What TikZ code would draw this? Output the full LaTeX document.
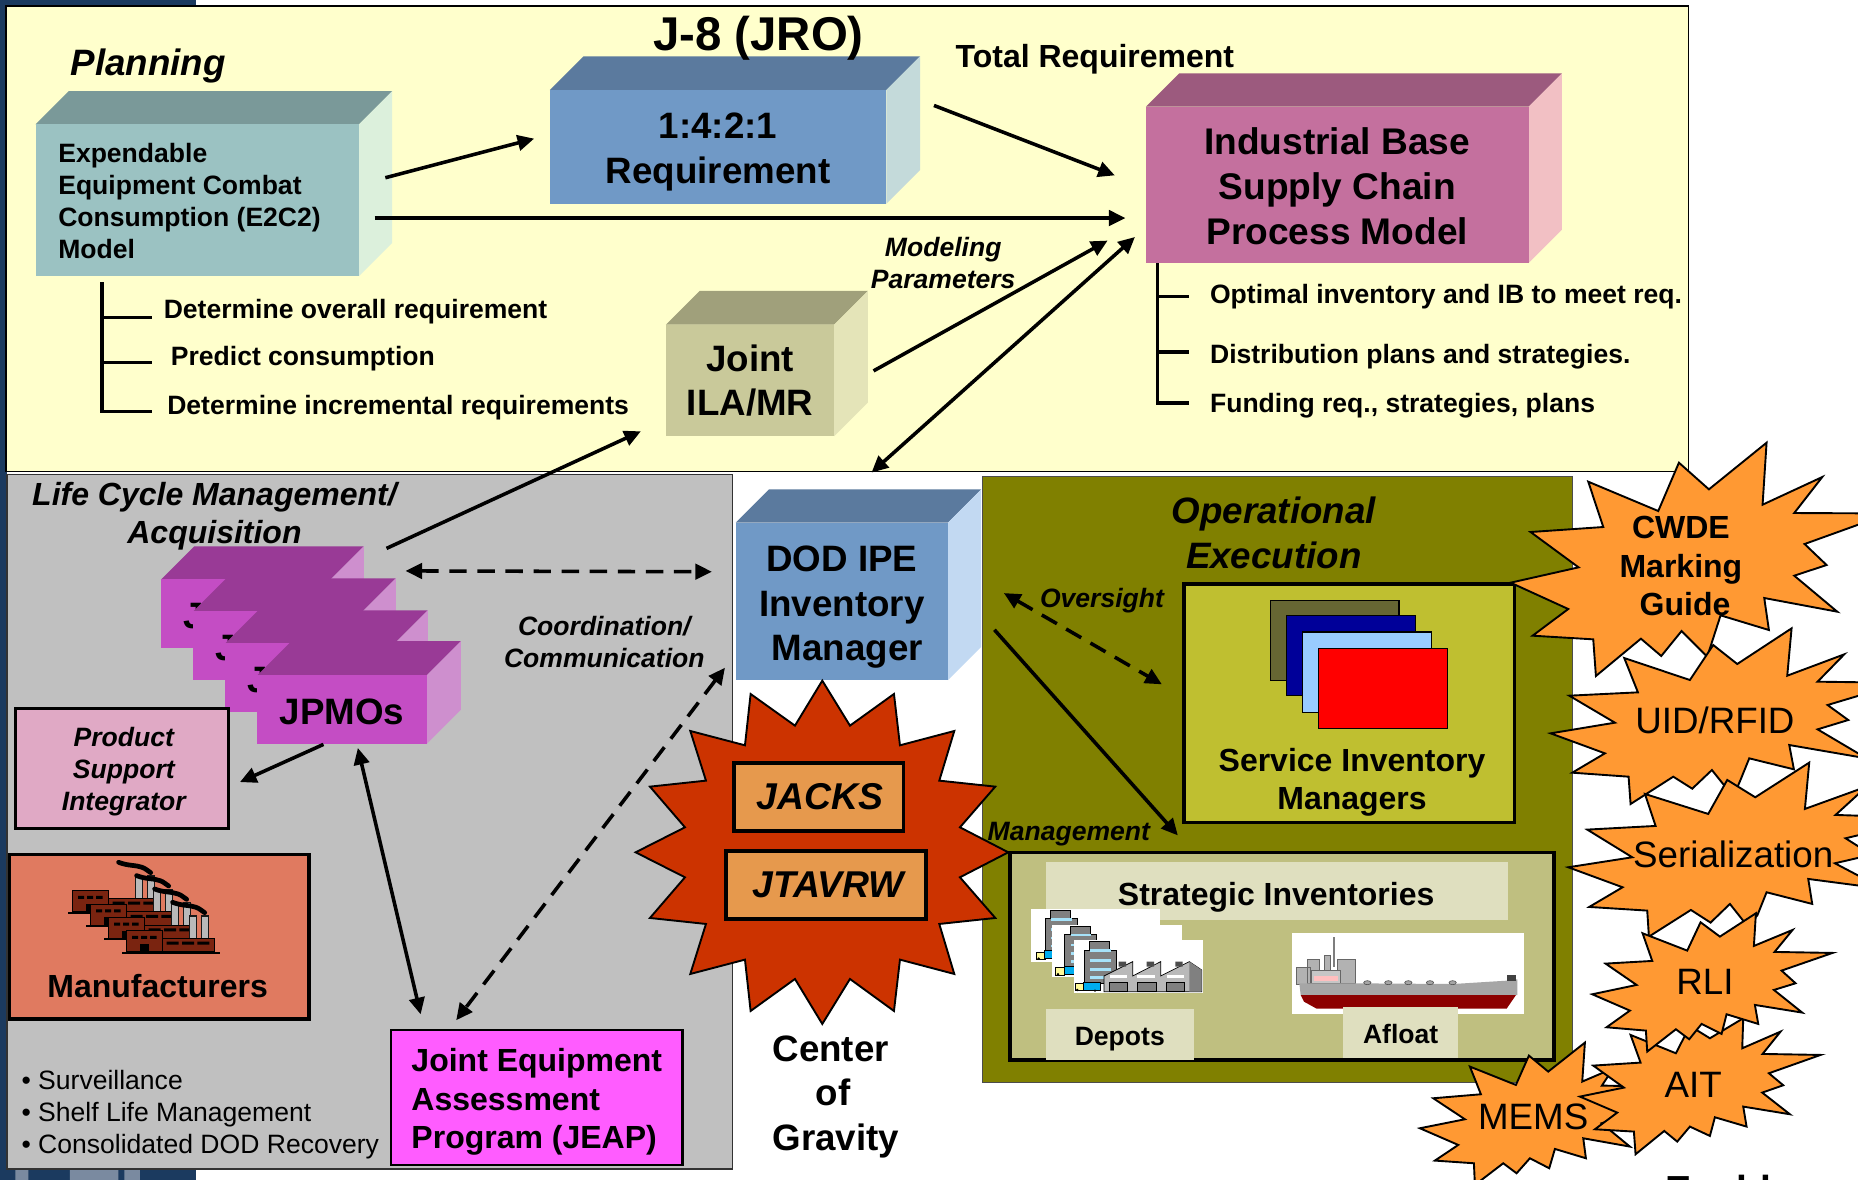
\documentclass[tikz,border=0pt]{standalone}
\usepackage{fontspec}
\setmainfont{Liberation Sans}
\usetikzlibrary{arrows.meta,calc}
\definecolor{navy}{HTML}{1B3A5F}
\definecolor{panelY}{HTML}{FFFFCC}
\definecolor{panelG}{HTML}{C0C0C0}
\definecolor{olive}{HTML}{808000}
\definecolor{e2f}{HTML}{9BC2C2}\definecolor{e2t}{HTML}{7A9999}\definecolor{e2s}{HTML}{DCF0DC}
\definecolor{rqf}{HTML}{7099C6}\definecolor{rqt}{HTML}{5B7A9E}\definecolor{rqs}{HTML}{C4DADA}
\definecolor{inf}{HTML}{C4709E}\definecolor{int}{HTML}{9C5A7E}\definecolor{ins}{HTML}{F2C0C4}
\definecolor{ilf}{HTML}{C9C99A}\definecolor{ilt}{HTML}{A0A07B}\definecolor{ils}{HTML}{E4E4B8}
\definecolor{dof}{HTML}{7099C6}\definecolor{dot}{HTML}{5B7A9E}\definecolor{dos}{HTML}{C2D9F2}
\definecolor{jpf}{HTML}{C44DC4}\definecolor{jpt}{HTML}{993A96}\definecolor{jps}{HTML}{CE8FCE}
\definecolor{psiF}{HTML}{E0A9C5}
\definecolor{manF}{HTML}{E07A60}
\definecolor{jeapF}{HTML}{FF5CFF}
\definecolor{starR}{HTML}{CC3300}
\definecolor{starO}{HTML}{FF9933}
\definecolor{jackF}{HTML}{E6994D}
\definecolor{svcF}{HTML}{BFBF30}
\definecolor{strF}{HTML}{BFBF80}
\definecolor{paleF}{HTML}{DFDFBF}
\definecolor{brick}{HTML}{7A2410}
\definecolor{cardA}{HTML}{666633}
\definecolor{cardB}{HTML}{000099}
\definecolor{cardC}{HTML}{99CCFF}
\definecolor{cardD}{HTML}{FF0000}
\definecolor{stripG}{HTML}{7A8AA0}
\newcommand\fs[2]{\fontsize{#1}{#2}\selectfont}
\tikzset{
  tx/.style={inner sep=0pt,align=center},
  txl/.style={inner sep=0pt,align=left,anchor=west},
  arr/.style={line width=3pt,-{Triangle[length=14pt,width=13pt]}},
  darr/.style={line width=3pt,{Triangle[length=14pt,width=13pt]}-{Triangle[length=14pt,width=13pt]}},
  dasharr/.style={darr,dash pattern=on 14.7pt off 9pt},
  tree/.style={line width=2.8pt},
  burst/.style={draw=black,line width=1.6pt,line join=miter,miter limit=20},
  boxed/.style={draw=black,line width=3pt,inner sep=0pt,align=center},
  z3/.style={x=0.2813pt,y=-0.2813pt},
  bb/.style={font=\bfseries\fs{22.4}{27}},
  bi/.style={font=\bfseries\itshape\fs{22.4}{27}},
}
\def\cs{0}
% name,x1,y1,x2,y2,depth,colour prefix,font,text
\newcommand\cube[9]{%
  \fill[#7t] (#2,#3) -- (#2+#6,#3-#6) -- (#4+#6,#3-#6) -- (#4,#3) -- cycle;
  \fill[#7s] (#4,#3) -- (#4+#6,#3-#6) -- (#4+#6,#5-#6) -- (#4,#5) -- cycle;
  \node[fill=#7f,inner sep=0pt,minimum width=#4pt-#2pt,minimum height=#5pt-#3pt] (#1) at ({(#2+#4)/2},{(#3+#5)/2}) {};
  \node[tx,font=#8] (#1T) at ({(#2+#4)/2},{(#3+#5)/2+\cs}) {#9};
}
\newcommand\factory[2]{%
  \begin{scope}[shift={(#1,#2)}]
    \fill[black!90] (416,196) rectangle (442,265);
    \fill[black!90] (452,196) rectangle (478,265);
    \fill[gray!55] (420,200) rectangle (438,265);
    \fill[gray!55] (456,200) rectangle (474,265);
    \draw[line width=4pt,line cap=round] (368,157) .. controls (395,168) and (420,165) .. (438,172) .. controls (450,176) and (455,183) .. (464,188);
    \fill[brick,draw=black,line width=.8pt] (337,265) rectangle (494,305);
    \fill[black] (350,275) rectangle (386,284) (396,275) rectangle (432,284) (442,275) rectangle (478,284);
    \fill[brick,draw=black,line width=.8pt] (230,242) rectangle (336,305);
    \fill[black] (246,258) rectangle (264,267) (273,258) rectangle (291,267) (300,258) rectangle (320,267);
    \fill[black] (270,282) rectangle (298,305);
    \fill[black] (216,305) rectangle (510,311);
  \end{scope}%
}
\newcommand\tower[2]{%
  \begin{scope}[shift={(#1,#2)}]
    \fill[gray,draw=black,line width=.5pt] (208,125) rectangle (268,150);
    \fill[gray,draw=black,line width=.5pt] (192,150) rectangle (288,250);
    \foreach \yy in {152,182,208,232}{\fill[cyan!35] (210,\yy-4) rectangle (272,\yy+4);}
    \fill[yellow!40!white,draw=black,line width=.5pt] (165,250) rectangle (192,272);
    \fill[cyan,draw=black,line width=.5pt] (190,246) rectangle (240,270);
    \fill[black] (172,270) circle (4) (225,272) circle (4);
  \end{scope}%
}
\begin{document}
\begin{tikzpicture}[x=1pt,y=-1pt]
\useasboundingbox (0,0) rectangle (1568,995.8);
\clip (0,0) rectangle (1568,995.8);
\fill[white] (0,0) rectangle (1568,995.8);
% backdrop strips
\fill[navy] (0,0) rectangle (165,6);
\fill[navy] (0,0) rectangle (6,995.8);
\fill[navy] (0,986) rectangle (165,995.8);
\fill[stripG] (13,987) rectangle (24,995.8) (59,987) rectangle (100,995.8) (105,987) rectangle (118,995.8);
% panels
\node[draw=black,line width=1.4pt,fill=panelY,minimum width=1420pt,minimum height=393pt,inner sep=0pt] (planPanel) at (715,201.5) {};
\node[draw=black!80,line width=1.4pt,fill=panelG,minimum width=612.5pt,minimum height=586pt,inner sep=0pt] (lcmPanel) at (312,693.5) {};
\node[draw=black!70,line width=1pt,fill=olive,minimum width=498pt,minimum height=511.5pt,inner sep=0pt] (opsPanel) at (1078,658) {};
% planning cubes
\cube{e2c2}{30}{105}{303}{233}{28}{e2}{\bfseries}{}
\def\cs{4}
\cube{req}{464}{76}{748}{172}{28.5}{rq}{\bfseries\fs{31}{38}}{1:4:2:1\\Requirement}
\def\cs{1.5}
\cube{ind}{967}{90}{1290}{222}{28}{in}{\bfseries\fs{31.3}{38}}{Industrial Base\\Supply Chain\\Process Model}
\def\cs{0}
\cube{ila}{562}{274}{704}{368}{28.5}{il}{\bfseries\fs{31}{37}}{Joint\\ILA/MR}
\node[txl,bb] (e2c2txt) at (49,170) {Expendable\\Equipment Combat\\Consumption (E2C2)\\Model};
% titles
\node[tx,font=\bfseries\fs{40}{40}] (j8) at (640,32) {J-8 (JRO)};
\node[tx,font=\bfseries\itshape\fs{31}{31}] (planT) at (125,56) {Planning};
\node[tx,font=\bfseries\fs{27}{27}] (totalT) at (924,50) {Total Requirement};
\node[tx,bi] (modT) at (796,222) {Modeling\\Parameters};
% left tree
\node[txl,bb] (t1) at (138,263) {Determine overall requirement};
\node[txl,bb] (t2) at (144,303) {Predict consumption};
\node[txl,bb] (t3) at (141,344) {Determine incremental requirements};
\coordinate (lt0) at (86,238); \coordinate (lt3) at (86,347); \coordinate (lt3e) at (128,347);
\coordinate (lt1) at (86,268); \coordinate (lt1e) at (128,268);
\coordinate (lt2) at (86,306); \coordinate (lt2e) at (128,306);
\draw[tree] (lt0) -- (lt3) -- (lt3e) (lt1) -- (lt1e) (lt2) -- (lt2e);
% right tree
\node[txl,bb] (r1) at (1021,250) {Optimal inventory and IB to meet req.};
\node[txl,bb] (r2) at (1021,301) {Distribution plans and strategies.};
\node[txl,bb] (r3) at (1021,342) {Funding req., strategies, plans};
\coordinate (rt0) at (977,222); \coordinate (rt3) at (977,340); \coordinate (rt3e) at (1003,340);
\coordinate (rt1) at (977,250); \coordinate (rt1e) at (1003,250);
\coordinate (rt2) at (977,297); \coordinate (rt2e) at (1003,297);
\draw[tree] (rt0) -- (rt3) -- (rt3e) (rt1) -- (rt1e) (rt2) -- (rt2e);
% life cycle
\node[tx,font=\bfseries\itshape\fs{27}{32}] (lcmT) at (181,436) {Life Cycle Management/\\Acquisition};
\def\cs{2}
\cube{jpa}{136}{489}{279}{547}{28}{jp}{\bfseries\fs{31}{31}}{JPMOs}
\cube{jpb}{163}{516}{306}{574}{28}{jp}{\bfseries\fs{31}{31}}{JPMOs}
\cube{jpc}{190}{543}{333}{601}{28}{jp}{\bfseries\fs{31}{31}}{JPMOs}
\cube{jpd}{217}{570}{360}{628}{29}{jp}{\bfseries\fs{31}{31}}{JPMOs}
\node[boxed,fill=psiF,minimum width=180pt,minimum height=101pt] (psi) at (103,648.5) {};
\node[tx,font=\bfseries\itshape\fs{22.4}{27}] (psiT) at (104.5,651) {Product\\Support\\Integrator};
\node[draw=black,line width=3pt,fill=manF,minimum width=253pt,minimum height=139pt,inner sep=0pt] (man) at (134.5,790.5) {};
\node[tx,font=\bfseries\fs{27}{27}] (manT) at (133,832) {Manufacturers};
\begin{scope}[shift={(42.2,717.3)},z3]
  \factory{-162}{-120}\factory{-108}{-80}\factory{-54}{-40}\factory{0}{0}
\end{scope}
\node[draw=black,line width=2pt,fill=jeapF,inner sep=0pt,minimum width=246pt,minimum height=114pt] (jeap) at (453,926) {};
\node[tx,align=left,font=\bfseries\fs{27}{32.5}] (jeapT) at (453,930) {Joint Equipment\\Assessment\\Program (JEAP)};
\node[txl,font=\fs{22.4}{27}] (bul) at (18,941) {• Surveillance\\• Shelf Life Management\\• Consolidated DOD Recovery};
\node[tx,bi] (coordT) at (510,541.5) {Coordination/\\Communication};
% DOD
\def\cs{5}
\cube{dod}{621}{441}{800}{574}{28}{do}{\bfseries\fs{31}{37.5}}{DOD IPE\\Inventory\\\hspace*{9pt}Manager}
\def\cs{0}
% operational
\node[tx,font=\bfseries\itshape\fs{31}{38}] (opT) at (1075,450) {Operational\\Execution};
\node[boxed,fill=svcF,minimum width=279pt,minimum height=201pt] (svc) at (1138.5,593.5) {};
\begin{scope}[shift={(810,396.6)},x=.4833pt,y=-.3821pt]
  \foreach \ox/\oy/\cc in {542/288/cardA,570/322/cardB,598/358/cardC,626/394/cardD}{
    \filldraw[fill=\cc,draw=black,line width=1pt] (\ox,\oy) rectangle (\ox+225,\oy+177);
  }
\end{scope}
\node[tx,font=\bfseries\fs{27}{32}] (svcT) at (1141,660) {Service Inventory\\Managers};
\node[boxed,fill=strF,minimum width=459pt,minimum height=175pt] (strat) at (1082,807) {};
\node[fill=paleF,inner sep=0pt,minimum width=390pt,minimum height=48.5pt] (stratBar) at (1078,752) {};
\node[tx,font=\bfseries\fs{27}{27}] (stratT) at (1077,757) {Strategic Inventories};
% depots picture
\begin{scope}[shift={(860.8,759.5)},z3]
  \fill[white] (33,27) rectangle (420,185);
  \tower{-116}{-94}
  \fill[white] (97,75) rectangle (486,232);
  \tower{-58}{-47}
  \fill[white] (162,120) rectangle (548,278);
  \tower{0}{0}
  \fill[gray!55,draw=black,line width=.6pt] (252,228) -- (338,185) -- (338,228) -- (422,185) -- (422,228) -- (508,185) -- (545,210) -- (545,275) -- (252,275) -- cycle;
  \fill[black!70] (296,185) rectangle (318,200) (380,185) rectangle (402,200) (466,185) rectangle (488,200);
  \fill[gray] (508,185) -- (545,210) -- (545,275) -- (508,275) -- cycle;
  \fill[gray,draw=black,line width=.4pt] (268,247) rectangle (322,275) (352,247) rectangle (410,275) (438,247) rectangle (494,275);
  \foreach \wx in {270,352,440}{\fill[white] (\wx,226) rectangle (\wx+52,233);}
\end{scope}
% ship picture
\begin{scope}[shift={(1080.2,776.4)},z3]
  \fill[white] (37,40) rectangle (731,281);
  \fill[gray!55!black!70] (160,52) rectangle (166,140);
  \fill[gray!60,draw=black!60,line width=.4pt] (83,118) rectangle (118,190) (133,105) rectangle (152,190) (172,118) rectangle (226,190) (50,142) rectangle (90,192);
  \fill[gray!45,draw=black!60,line width=.4pt] (95,150) rectangle (180,190);
  \fill[red!25] (102,168) rectangle (175,182);
  \fill[gray!70] (58,190) -- (225,190) -- (520,192) -- (680,182) -- (712,178) -- (712,225) -- (62,225) -- cycle;
  \fill[gray!50!black] (680,165) rectangle (708,182);
  \fill[red!55!black] (62,225) -- (708,225) -- (680,266) -- (110,266) -- (72,245) -- cycle;
  \foreach \sx in {262,325,385,450,518}{\filldraw[fill=gray!70,draw=black!70,line width=.5pt] (\sx,188) ellipse (11 and 6);}
\end{scope}
\node[fill=paleF,inner sep=0pt,minimum width=125pt,minimum height=43.5pt] (depL) at (945,873) {};
\node[tx,bb] (depT) at (945,877) {Depots};
\node[fill=paleF,inner sep=0pt,minimum width=97pt,minimum height=43pt] (aflL) at (1181.5,871.5) {};
\node[tx,bb] (aflT) at (1182,873) {Afloat};
% center-of-gravity star
\begin{scope}[shift={(523.2,565.4)},z3]
  \filldraw[burst,fill=starR] (607,32)--(690,167)--(822,72)--(840,226)--(1003,183)--(958,332)--(1126,350)--(1020,472)--(1165,547)--(1020,622)--(1126,744)--(958,762)--(1003,912)--(840,869)--(822,1023)--(690,927)--(607,1062)--(525,927)--(392,1023)--(375,869)--(211,912)--(258,762)--(90,744)--(195,622)--(47,547)--(195,472)--(90,350)--(258,332)--(211,183)--(375,226)--(392,72)--(525,167)--cycle;
\end{scope}
\node[boxed,fill=jackF,minimum width=143pt,minimum height=57.5pt,font=\bfseries\itshape\fs{31.5}{31.5}] (jacks) at (691,672.5) {\hspace*{2pt}JACKS};
\node[boxed,fill=jackF,minimum width=169pt,minimum height=57.5pt,font=\bfseries\itshape\fs{31.5}{31.5}] (jtav) at (697,747) {\hspace*{4pt}JTAVRW};
\node[tx,font=\bfseries\fs{31}{37.5}] (cog) at (703,925.5) {Center\hspace*{4pt}\\of\hspace*{4pt}\\\hspace*{5pt}Gravity};
\node[tx,bi] (mgtT) at (902,704) {Management};
\node[tx,bi] (ovT) at (930,507) {Oversight};
% orange stars
\begin{scope}[shift={(1265.8,362.9)},z3]
  \filldraw[burst,fill=starO] (537,98)--(627,178)--(800,38)--(788,224)--(967,141)--(883,249)--(1100,250)--(1100,275)--(914,342)--(980,405)--(883,437)--(1012,545)--(793,504)--(807,600)--(662,556)--(622,680)--(545,603)--(484,678)--(423,626)--(288,738)--(280,628)--(98,617)--(205,537)--(32,458)--(236,412)--(92,306)--(310,291)--(265,155)--(475,243)--cycle;
  \node[tx,font=\bfseries\fs{27}{32.5}] (cwdeT) at (543,409) {CWDE\\Marking\\\hspace*{7pt}Guide};
  \filldraw[burst,fill=starO] (373,684)--(570,750)--(640,645)--(712,702)--(875,595)--(862,737)--(1033,673)--(953,755)--(1100,757)--(1100,790)--(983,825)--(1045,870)--(953,898)--(1100,985)--(868,945)--(882,1018)--(748,985)--(720,1054)--(700,1100)--(636,1020)--(577,1076)--(520,1040)--(392,1122)--(386,1040)--(217,1028)--(315,970)--(152,910)--(345,878)--(208,797)--(414,787)--cycle;
  \node[tx,font=\fs{31}{31}] (uidT) at (645,870) {UID/RFID};
\end{scope}
\begin{scope}[shift={(1181.4,658.2)},z3]
  \filldraw[burst,fill=starO] (735,42)--(925,102)--(982,0)--(1066,52)--(1228,-52)--(1215,87)--(1400,20)--(1307,105)--(1400,108)--(1400,160)--(1337,175)--(1400,215)--(1400,228)--(1305,250)--(1400,300)--(1400,320)--(1225,297)--(1237,372)--(1100,337)--(1072,407)--(1040,435)--(990,372)--(932,428)--(873,390)--(747,470)--(742,392)--(568,381)--(668,322)--(505,262)--(697,232)--(562,149)--(767,138)--cycle;
  \node[tx,font=\fs{31}{31}] (serT) at (1000,222) {Serialization};
  \filldraw[burst,fill=starO] (210,860)--(348,915)--(387,827)--(445,875)--(555,788)--(547,905)--(640,865)--(606,917)--(780,920)--(630,975)--(670,1010)--(605,1030)--(690,1100)--(550,1075)--(558,1135)--(465,1107)--(448,1165)--(390,1135)--(350,1180)--(310,1150)--(225,1215)--(222,1150)--(105,1142)--(175,1095)--(60,1045)--(195,1018)--(100,955)--(243,943)--cycle;
  \node[tx,font=\fs{31}{31}] (memT) at (400,1010) {MEMS};
  \filldraw[burst,fill=starO] (692,765)--(828,820)--(870,738)--(930,775)--(1030,715)--(1027,805)--(1142,755)--(1088,822)--(1262,825)--(1107,880)--(1150,916)--(1087,938)--(1170,1003)--(1030,980)--(1040,1040)--(945,1012)--(930,1068)--(870,1040)--(832,1085)--(793,1053)--(707,1123)--(702,1055)--(585,1048)--(652,998)--(540,950)--(672,923)--(580,857)--(722,848)--cycle;
  \node[tx,font=\fs{31}{31}] (aitT) at (880,915) {AIT};
  \filldraw[burst,fill=starO] (728,460)--(862,512)--(902,427)--(960,470)--(1068,400)--(1062,498)--(1178,450)--(1124,516)--(1298,519)--(1145,572)--(1187,610)--(1122,630)--(1207,698)--(1065,675)--(1075,732)--(980,703)--(965,762)--(905,732)--(868,778)--(828,748)--(742,815)--(738,752)--(620,742)--(690,692)--(577,643)--(710,615)--(617,551)--(757,543)--cycle;
  \node[tx,font=\fs{31}{31}] (rliT) at (915,607) {RLI};
\end{scope}
\node[anchor=base west,inner sep=0pt,font=\bfseries\fs{33}{33}] (enab) at (1405,1016) {Enablers};
% connectors
\draw[arr] ([shift={(22,-19)}]e2c2.east) -- ([shift={(-13,-7)}]req.west);
\draw[arr] ([shift={(13,15)}]e2c2.east) -- ([shift={(-17,28)}]ind.west);
\draw[arr] ([shift={(40,-35)}]req.east) -- ([shift={(-26,-8)}]ind.west);
\draw[arr] ([shift={(33,-8)}]ila.east) -- ([shift={(-32,47)}]ind.west);
\draw[darr] ([shift={(25,-42)}]dod.north) -- ([shift={(-9,44)}]ind.west);
\draw[arr] ([shift={(47,-26)}]jpa.north east) -- ([shift={(-21,43)}]ila.west);
\draw[dasharr] ([shift={(63,-7)}]jpa.north east) -- ([shift={(-20,-25)}]dod.west);
\draw[arr] ([shift={(-15.5,0)}]jpd.south) -- ([shift={(8,11.5)}]psi.east);
\draw[darr] ([shift={(13.5,3)}]jpd.south) -- ([shift={(-98,-12)}]jeap.north);
\draw[dasharr] ([shift={(-9,56)}]dod.west) -- ([shift={(-68,-7)}]jeap.north);
\draw[dasharr] ([shift={(47,-7)}]dod.east) -- ([shift={(-17,-16)}]svc.west);
\draw[arr] ([shift={(39,24)}]dod.east) -- ([shift={(-88,-13)}]strat.north);
\end{tikzpicture}
\end{document}
